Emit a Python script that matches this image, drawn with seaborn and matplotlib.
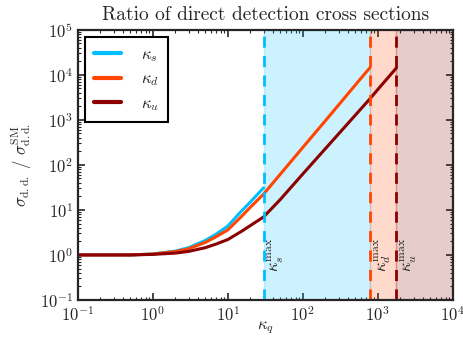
import numpy as np
import pandas as pd
import matplotlib
matplotlib.use("Agg")
import matplotlib.pyplot as plt
import seaborn as sns

# ---- data ----
kappa_s = [0.1, 0.2, 0.5, 1, 2, 3, 5, 7, 10, 15, 20, 30]
ratio_s = [1.0, 1.0, 1.0, 1.05, 1.22, 1.45, 2.1, 2.9, 4.4, 9.2, 15.0, 31.0]

kappa_d = [0.1, 0.2, 0.5, 1, 2, 3, 5, 7, 10, 15, 20, 30, 50, 100, 200, 300, 500, 782]
ratio_d = [1.0, 1.0, 1.0, 1.05, 1.19, 1.37, 1.9, 2.55, 3.6, 7.0, 11.5, 22.5, 62, 245, 960, 2150, 5950, 14400]

kappa_u = [0.1, 0.2, 0.5, 1, 2, 3, 5, 7, 10, 15, 20, 30, 50, 100, 200, 300, 500, 782, 1000, 1774]
ratio_u = [1.0, 1.0, 1.0, 1.03, 1.1, 1.2, 1.45, 1.75, 2.2, 3.3, 4.5, 7.0, 17, 63, 230, 490, 1270, 2930, 4750, 14400]

kappa_max = [30, 782, 1774]
labels = [r"$\kappa_s$", r"$\kappa_d$", r"$\kappa_u$"]
max_labels = [r"$\kappa_s^{\rm max}$", r"$\kappa_d^{\rm max}$", r"$\kappa_u^{\rm max}$"]
colors = ["#00bfff", "#ff4500", "#8b0000"]

sns.set_style("ticks")
plt.rcParams["font.family"] = ["cmr10", "DejaVu Serif"]
plt.rcParams["mathtext.fontset"] = "cm"
plt.rcParams["axes.formatter.use_mathtext"] = True
plt.rcParams["axes.unicode_minus"] = False

df = pd.concat([
    pd.DataFrame({"kappa": kappa_s, "ratio": ratio_s, "q": labels[0]}),
    pd.DataFrame({"kappa": kappa_d, "ratio": ratio_d, "q": labels[1]}),
    pd.DataFrame({"kappa": kappa_u, "ratio": ratio_u, "q": labels[2]}),
])

fig = plt.figure(figsize=(4.63, 3.44), dpi=100)
ax = fig.add_axes([0.168, 0.128, 0.810, 0.785])

# shaded regions
edges = kappa_max + [1e4]
for i in range(3):
    ax.axvspan(edges[i], edges[i + 1], color=colors[i], alpha=0.2, lw=1)

sns.lineplot(data=df, x="kappa", y="ratio", hue="q", palette=colors,
             linewidth=2.2, ax=ax, sort=False, estimator=None)

for i in range(3):
    ax.axvline(kappa_max[i], color=colors[i], ls=(0, (4, 3)), lw=2)
    ax.text(kappa_max[i] * 1.07, 1.0, max_labels[i], rotation=90,
            ha="left", va="center", fontsize=12)

ax.set_xscale("log")
ax.set_yscale("log")
ax.set_xlim(1e-1, 1e4)
ax.set_ylim(1e-1, 1e5)
ax.set_xlabel(r"$\kappa_q$", fontsize=12, labelpad=-3)
ax.set_ylabel(r"$\sigma_{\rm d.d.}\ /\ \sigma_{\rm d.d.}^{\rm SM}$", fontsize=12)
ax.set_title("Ratio of direct detection cross sections", fontsize=14, pad=7)

for s in ax.spines.values():
    s.set_linewidth(1.6)
    s.set_visible(True)
ax.tick_params(which="both", direction="in", top=True, right=True, labelsize=12)
ax.tick_params(which="major", length=5, width=1.2)
ax.tick_params(which="minor", length=2.5, width=0.8)
ax.xaxis.set_major_locator(matplotlib.ticker.LogLocator(base=10, numticks=10))
ax.xaxis.set_minor_locator(matplotlib.ticker.LogLocator(base=10, subs=np.arange(2, 10), numticks=20))
ax.yaxis.set_major_locator(matplotlib.ticker.LogLocator(base=10, numticks=10))
ax.yaxis.set_minor_locator(matplotlib.ticker.LogLocator(base=10, subs=np.arange(2, 10), numticks=20))

leg = ax.legend(loc="upper left", fontsize=12, handlelength=1.6, handletextpad=1.2,
                borderpad=0.55, labelspacing=0.45, fancybox=False, framealpha=1,
                edgecolor="black", borderaxespad=0.45)
leg.get_frame().set_linewidth(1.5)
for h in leg.get_lines():
    h.set_linewidth(3)

fig.savefig("out.png", dpi=100)
